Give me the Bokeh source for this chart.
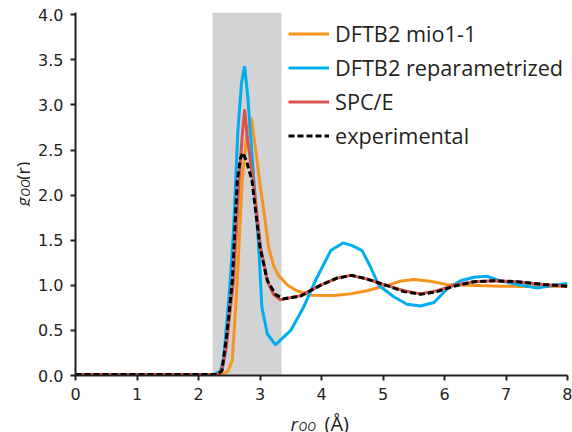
import math
from bokeh.plotting import figure
from bokeh.layouts import row, column
from bokeh.models import (Range1d, FixedTicker, Legend, LegendItem, BoxAnnotation,
                          Label, CustomJSTickFormatter)
from bokeh.embed import file_html
from bokeh.resources import INLINE

# ---------------- data ----------------
band_start = 2.23
band_end = 3.35

x_ticks = [0, 1, 2, 3, 4, 5, 6, 7, 8]
y_ticks = [0.0, 0.5, 1.0, 1.5, 2.0, 2.5, 3.0, 3.5, 4.0]

labels = ["DFTB2 mio1-1", "DFTB2 reparametrized", "SPC/E", "experimental"]

mio_x = [0.0, 2.40, 2.48, 2.55, 2.63, 2.71, 2.79, 2.86, 2.93, 3.00, 3.07, 3.14, 3.22,
         3.30, 3.45, 3.60, 3.82, 4.20, 4.47, 4.74, 5.07, 5.28, 5.50, 5.77, 6.04, 6.37,
         6.91, 7.45, 8.0]
mio_y = [0.01, 0.01, 0.05, 0.17, 1.05, 2.16, 2.71, 2.855, 2.50, 2.12, 1.79, 1.42, 1.22,
         1.11, 1.00, 0.94, 0.89, 0.886, 0.905, 0.94, 1.00, 1.045, 1.065, 1.045, 1.01, 1.00,
         0.99, 0.986, 0.99]

rep_x = [0.0, 2.25, 2.36, 2.41, 2.50, 2.57, 2.64, 2.70, 2.75, 2.80, 2.86, 2.90, 2.98,
         3.03, 3.12, 3.25, 3.50, 3.71, 3.90, 4.15, 4.35, 4.50, 4.66, 4.80, 4.93, 5.18,
         5.39, 5.61, 5.83, 6.04, 6.26, 6.48, 6.69, 6.91, 7.18, 7.51, 7.78, 8.0]
rep_y = [0.01, 0.01, 0.05, 0.20, 0.90, 1.61, 2.71, 3.25, 3.43, 3.10, 2.55, 2.16, 1.42,
         0.76, 0.46, 0.34, 0.50, 0.76, 1.05, 1.385, 1.47, 1.44, 1.385, 1.20, 1.00, 0.87,
         0.79, 0.77, 0.81, 0.96, 1.05, 1.09, 1.10, 1.05, 1.01, 0.97, 1.00, 1.02]

spce_x = [0.0, 2.30, 2.38, 2.45, 2.52, 2.57, 2.66, 2.71, 2.75, 2.80, 2.89, 3.01, 3.12,
          3.22, 3.33, 3.66, 3.98, 4.25, 4.47, 4.74, 5.01, 5.34, 5.61, 5.88, 6.15, 6.48,
          6.80, 7.18, 7.61, 8.0]
spce_y = [0.01, 0.01, 0.05, 0.30, 0.75, 1.05, 2.16, 2.65, 2.95, 2.60, 2.16, 1.42, 1.05,
          0.90, 0.84, 0.886, 1.00, 1.08, 1.11, 1.07, 1.01, 0.94, 0.905, 0.94, 1.00, 1.04,
          1.05, 1.04, 1.01, 0.99]

exp_x = [0.0, 2.30, 2.38, 2.46, 2.55, 2.63, 2.68, 2.72, 2.78, 2.87, 3.00, 3.12, 3.25,
         3.38, 3.66, 3.98, 4.25, 4.50, 4.74, 5.01, 5.34, 5.61, 5.88, 6.15, 6.48, 6.80,
         7.18, 7.61, 8.0]
exp_y = [0.01, 0.01, 0.05, 0.45, 1.05, 2.16, 2.40, 2.47, 2.38, 2.16, 1.42, 1.05, 0.90,
         0.85, 0.88, 1.00, 1.08, 1.11, 1.07, 1.01, 0.93, 0.90, 0.93, 0.99, 1.04, 1.05,
         1.04, 1.01, 0.99]

# ---------------- style ----------------
INK = "#231F20"
ORANGE = "#F7941D"
BLUE = "#00AEEF"
RED = "#D9534F"
GRAY = "#D1D3D4"

YL_W = 30      # width of the strip holding the y title
XL_H = 26      # height of the strip holding the x title
MAIN_H = 406

p = figure(width=572 - YL_W, height=MAIN_H, output_backend="svg", toolbar_location=None,
           title=None, x_range=Range1d(0, 8), y_range=Range1d(0, 4.025),
           min_border_left=45, min_border_right=5, min_border_top=12, min_border_bottom=31)
p.outline_line_color = None
p.xgrid.visible = False
p.ygrid.visible = False
p.background_fill_color = "white"

p.add_layout(BoxAnnotation(left=band_start, right=band_end, fill_color=GRAY,
                           fill_alpha=1.0, line_color=None, level="underlay"))

r1 = p.line(mio_x, mio_y, line_color=ORANGE, line_width=3)
r2 = p.line(rep_x, rep_y, line_color=BLUE, line_width=3)
r3 = p.line(spce_x, spce_y, line_color=RED, line_width=3)
r4 = p.line(exp_x, exp_y, line_color="black", line_width=3, line_dash="6 3")

for ax in (p.xaxis[0], p.yaxis[0]):
    ax.axis_line_color = INK
    ax.axis_line_width = 2
    ax.major_tick_line_color = INK
    ax.major_tick_line_width = 2
    ax.major_tick_in = 0
    ax.major_tick_out = 5
    ax.minor_tick_line_color = None
    ax.major_label_text_font = "DejaVu Sans"
    ax.major_label_text_font_size = "16px"
    ax.major_label_text_color = INK

p.xaxis.ticker = FixedTicker(ticks=x_ticks)
p.yaxis.ticker = FixedTicker(ticks=y_ticks)
p.yaxis.formatter = CustomJSTickFormatter(code="return tick.toFixed(1);")
p.xaxis.major_label_standoff = 7
p.yaxis.major_label_standoff = 7

legend = Legend(items=[LegendItem(label=labels[0], renderers=[r1]),
                       LegendItem(label=labels[1], renderers=[r2]),
                       LegendItem(label=labels[2], renderers=[r3]),
                       LegendItem(label=labels[3], renderers=[r4])],
                location=(213, 225), border_line_color=None, background_fill_alpha=0,
                label_text_font="Open Sans", label_text_font_size="21.7px",
                label_text_color=INK, glyph_width=41, glyph_height=29,
                label_height=29, label_standoff=6, spacing=5, padding=0, margin=0)
p.add_layout(legend)


def strip(w, h):
    f = figure(width=w, height=h, output_backend="svg", toolbar_location=None,
               title=None, x_range=Range1d(0, w), y_range=Range1d(0, h),
               x_axis_location=None, y_axis_location=None, min_border=0)
    f.outline_line_color = None
    f.xgrid.visible = False
    f.ygrid.visible = False
    return f


def lab(f, x, y, t, size, italic=False, angle=0.0):
    f.add_layout(Label(x=x, y=y, text=t, text_font="Open Sans",
                       text_font_style="italic" if italic else "normal",
                       text_font_size=size, text_color=INK, angle=angle,
                       text_align="left", text_baseline="alphabetic"))


# y title strip: g_OO(r)
ys = strip(YL_W, MAIN_H)
lab(ys, 22, 189, "g", "18px", True, math.pi / 2)
lab(ys, 25, 200, "OO", "12px", True, math.pi / 2)
lab(ys, 22, 219, "(r)", "18px", False, math.pi / 2)

# x title strip: r_OO (Å)
xs = strip(572, XL_H)
lab(xs, 290, 9, "r", "19px", True)
lab(xs, 298, 6, "OO", "12px", True)
lab(xs, 324, 9, "(Å)", "20px")

layout = column(row(ys, p), xs)
open("out.html", "w").write(file_html(layout, INLINE))
